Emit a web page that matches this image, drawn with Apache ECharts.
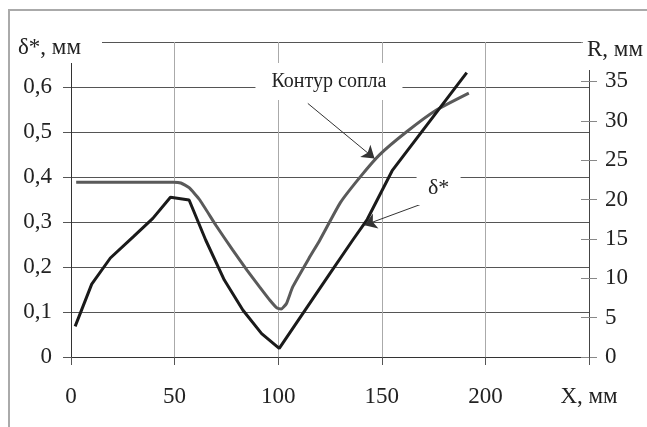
<!DOCTYPE html>
<html>
<head>
<meta charset="utf-8">
<script src="https://cdn.jsdelivr.net/npm/echarts@6/dist/echarts.min.js"></script>
<style>
html,body{margin:0;padding:0;background:#fff;}
#chart{width:647px;height:427px;}
</style>
</head>
<body>
<div id="chart"></div>
<script>
// X positions (mm) and boundary-layer displacement thickness δ* (mm)
const xDelta = [2, 10, 19, 30, 39.5, 48, 57, 65, 74, 83, 92, 100.5, 125, 136, 143, 149, 155, 191];
const delta  = [0.068, 0.162, 0.22, 0.267, 0.308, 0.355, 0.349, 0.26, 0.171, 0.104, 0.052, 0.019, 0.186, 0.26, 0.306, 0.36, 0.414, 0.632];

// X positions (mm) and nozzle contour radius R (mm)
const xContour = [2.5, 49.5, 53, 57, 62, 70, 78, 85, 91, 96, 99.5, 101.5, 104, 107, 115, 120, 130, 140, 149, 162, 176, 192];
const contour  = [22.2, 22.2, 22.1, 21.5, 20, 16.7, 13.6, 11, 8.9, 7.2, 6.2, 6.1, 6.8, 8.9, 12.6, 14.8, 19.6, 23.0, 25.7, 28.6, 31.3, 33.5];

// axis settings / labels
const xTicks = [0, 50, 100, 150, 200, 250];
const xName = 'X, мм';
const leftName = 'δ*, мм';
const rightName = 'R, мм';
const contourLabel = 'Контур сопла';
const deltaLabel = 'δ*';

// annotation anchor points (data coordinates)
const contourLabelAt = [124.5, 0.612];      // on δ* scale
const deltaLabelAt = [177.4, 0.3756];        // on δ* scale
const contourArrow = [[114.3, 32.2], [146.5, 25.2]]; // on R scale
const deltaArrow = [[172.2, 0.345], [141.6, 0.293]]; // on δ* scale

const FONT = 'Liberation Serif';
const TXT = '#222';
const FS = 23;

const chart = echarts.init(document.getElementById('chart'), null, {renderer: 'canvas'});

const arrowStyle = {
  silent: true,
  animation: false,
  symbol: ['none', 'arrow'],
  symbolSize: 12,
  label: {show: false},
  emphasis: {disabled: true},
  lineStyle: {color: '#333', width: 1, type: 'solid'},
  itemStyle: {color: '#222'}
};

chart.setOption({
  animation: false,
  backgroundColor: '#fff',
  grid: {left: 71, right: 58, top: 42, bottom: 70, containLabel: false, outerBoundsMode: 'none'},
  xAxis: {
    type: 'value', min: 0, max: 250, interval: 50,
    axisLine: {show: true, lineStyle: {color: '#333', width: 1}},
    axisTick: {show: true, length: 8, lineStyle: {color: '#555'}},
    axisLabel: {
      margin: 28, fontFamily: FONT, fontSize: FS, color: TXT,
      showMinLabel: true, showMaxLabel: true,
      formatter: v => (v === 250 ? xName : String(v))
    },
    splitLine: {show: true, lineStyle: {color: '#aaa', width: 1}}
  },
  yAxis: [
    {
      type: 'value', min: 0, max: 0.7, interval: 0.1, position: 'left',
      axisLine: {show: true, lineStyle: {color: '#333', width: 1}},
      axisTick: {show: true, length: 8, lineStyle: {color: '#555'}},
      axisLabel: {
        margin: 19, fontFamily: FONT, fontSize: FS, color: TXT,
        formatter: v => (Math.abs(v - 0.7) < 1e-9 ? '' : (v === 0 ? '0' : v.toFixed(1).replace('.', ',')))
      },
      splitLine: {show: true, lineStyle: {color: '#555', width: 1}}
    },
    {
      type: 'value', min: 0, max: 40, interval: 5, position: 'right',
      axisLine: {show: true, onZero: false, lineStyle: {color: '#444', width: 1}},
      axisTick: {show: true, length: 8, lineStyle: {color: '#888'}},
      axisLabel: {
        margin: 16, fontFamily: FONT, fontSize: FS, color: TXT,
        formatter: v => (v === 40 ? '' : String(v))
      },
      splitLine: {show: false}
    },
    {
      type: 'value', min: 0, max: 40, interval: 5, position: 'right',
      axisLine: {show: false},
      axisTick: {show: true, inside: true, length: 8, lineStyle: {color: '#888'}},
      axisLabel: {show: false},
      splitLine: {show: false}
    }
  ],
  series: [
    {
      type: 'line', name: contourLabel, xAxisIndex: 0, yAxisIndex: 1,
      data: xContour.map((x, i) => [x, contour[i]]),
      symbol: 'none', smooth: 0.15,
      lineStyle: {color: '#5a5a5a', width: 3},
      z: 2,
      markLine: Object.assign({}, arrowStyle, {
        data: [[{coord: contourArrow[0]}, {coord: contourArrow[1]}]]
      })
    },
    {
      type: 'line', name: deltaLabel, xAxisIndex: 0, yAxisIndex: 0,
      data: xDelta.map((x, i) => [x, delta[i]]),
      symbol: 'none',
      lineStyle: {color: '#1a1a1a', width: 3},
      z: 3,
      markLine: Object.assign({}, arrowStyle, {
        data: [[{coord: deltaArrow[0]}, {coord: deltaArrow[1]}]]
      }),
      markPoint: {
        silent: true,
        animation: false,
        emphasis: {disabled: true},
        data: [
          {
            coord: contourLabelAt, symbol: 'rect', symbolSize: [147, 37],
            itemStyle: {color: '#fff'},
            label: {show: true, position: 'inside', formatter: contourLabel,
                    fontFamily: FONT, fontSize: 20, color: TXT}
          },
          {
            coord: deltaLabelAt, symbol: 'rect', symbolSize: [44, 34],
            itemStyle: {color: '#fff'},
            label: {show: true, position: 'inside', formatter: deltaLabel,
                    fontFamily: FONT, fontSize: 22, color: TXT}
          }
        ]
      }
    }
  ],
  graphic: [
    {type: 'polyline', z: 40, silent: true,
     shape: {points: [[9, 427], [9, 10], [647, 10]]},
     style: {stroke: '#aaa', lineWidth: 2, fill: null}},
    {type: 'rect', z: 50, silent: true, shape: {x: 11, y: 12, width: 91, height: 51}, style: {fill: '#fff'}},
    {type: 'rect', z: 50, silent: true, shape: {x: 583, y: 12, width: 64, height: 58}, style: {fill: '#fff'}},
    {type: 'text', z: 51, silent: true, x: 18, y: 48,
     style: {text: leftName, font: FS + 'px "Liberation Serif"', fill: TXT, align: 'left', verticalAlign: 'middle'}},
    {type: 'text', z: 51, silent: true, x: 587, y: 50,
     style: {text: rightName, font: FS + 'px "Liberation Serif"', fill: TXT, align: 'left', verticalAlign: 'middle'}}
  ]
});
</script>
</body>
</html>
